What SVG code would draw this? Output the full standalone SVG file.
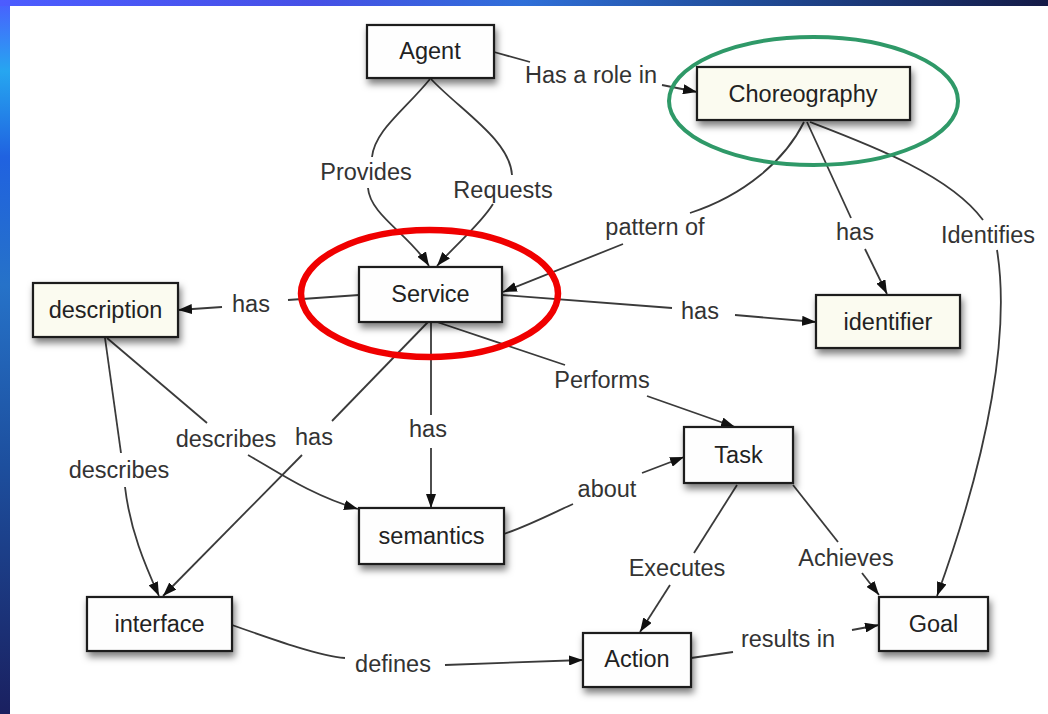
<svg xmlns="http://www.w3.org/2000/svg" width="1048" height="714" viewBox="0 0 1048 714">
  <defs>
    <linearGradient id="frameTop" x1="0" y1="0" x2="1" y2="0">
      <stop offset="0" stop-color="#4c5cff"/>
      <stop offset="0.3" stop-color="#4650e6"/>
      <stop offset="0.5" stop-color="#2f6fd8"/>
      <stop offset="0.7" stop-color="#214e9c"/>
      <stop offset="1" stop-color="#141a46"/>
    </linearGradient>
    <linearGradient id="frameLeft" x1="0" y1="0" x2="0" y2="1">
      <stop offset="0" stop-color="#4a5eff"/>
      <stop offset="0.1" stop-color="#26a6f0"/>
      <stop offset="0.22" stop-color="#2062e0"/>
      <stop offset="0.4" stop-color="#2672c8"/>
      <stop offset="0.65" stop-color="#1d4f9e"/>
      <stop offset="1" stop-color="#1a2060"/>
    </linearGradient>
    <filter id="shadow" x="-20%" y="-30%" width="150%" height="180%">
      <feDropShadow dx="2" dy="5" stdDeviation="3.5" flood-color="#000" flood-opacity="0.5"/>
    </filter>
    <marker id="arrow" viewBox="0 0 14 10" refX="14" refY="5" markerWidth="14" markerHeight="10" markerUnits="userSpaceOnUse" orient="auto">
      <path d="M0,0 L14,5 L0,10 z" fill="#111"/>
    </marker>
    <style>
      .box { fill: #fefefe; stroke: #1a1a1a; stroke-width: 2.2; filter: url(#shadow); }
      .box.cream { fill: #fbfbf0; }
      .node-text { font-family: "Liberation Sans", Arial, sans-serif; font-size: 23.5px; fill: #222; text-anchor: middle; }
      .label { font-family: "Liberation Sans", Arial, sans-serif; font-size: 23.5px; fill: #333; text-anchor: middle; }
      .link { fill: none; stroke: #3a3a3a; stroke-width: 1.8; }
      .head { marker-end: url(#arrow); }
      .ring { fill: none; }
    </style>
  </defs>

  <!-- slide frame -->
  <rect x="0" y="0" width="1048" height="714" fill="url(#frameLeft)"/>
  <rect x="0" y="0" width="1048" height="6" fill="url(#frameTop)"/>
  <rect x="10" y="6" width="1038" height="708" fill="#ffffff"/>

  <!-- connectors -->
  <g id="connectors">
    <path class="link" d="M494,52 L530,62"/>
    <path class="link head" d="M662,85 L697,92"/>

    <path class="link" d="M430,79 C405,110 375,130 372,157"/>
    <path class="link head" d="M368,188 C370,215 410,235 429,266"/>

    <path class="link" d="M431,79 C460,110 510,140 512,175"/>
    <path class="link head" d="M493,204 C480,225 455,245 437,266"/>

    <path class="link" d="M804,122 C785,160 745,195 690,213"/>
    <path class="link head" d="M623,244 L503,292"/>

    <path class="link" d="M807,122 L851,218"/>
    <path class="link head" d="M865,249 L887,294"/>

    <path class="link" d="M810,122 C870,145 950,175 983,220"/>
    <path class="link head" d="M997,250 C1010,330 990,450 937,596"/>

    <path class="link" d="M359,295 L288,300"/>
    <path class="link head" d="M222,307 L178,310"/>

    <path class="link" d="M502,295 L672,308"/>
    <path class="link head" d="M735,315 L816,322"/>

    <path class="link" d="M437,322 L565,365"/>
    <path class="link head" d="M647,396 L735,427"/>

    <path class="link" d="M431,322 L431,415"/>
    <path class="link head" d="M431,448 L431,508"/>

    <path class="link" d="M428,322 L332,421"/>
    <path class="link head" d="M302,455 L163,596"/>

    <path class="link" d="M107,338 L207,423"/>
    <path class="link head" d="M248,455 C275,470 310,495 358,509"/>

    <path class="link" d="M105,338 L121,453"/>
    <path class="link head" d="M125,487 C130,530 145,565 159,596"/>

    <path class="link" d="M504,534 C530,525 555,512 573,504"/>
    <path class="link head" d="M642,473 L684,457"/>

    <path class="link" d="M737,485 L694,553"/>
    <path class="link head" d="M670,585 L640,632"/>

    <path class="link" d="M793,485 L838,542"/>
    <path class="link head" d="M862,573 L879,595"/>

    <path class="link" d="M691,658 L733,652"/>
    <path class="link head" d="M852,630 L879,625"/>

    <path class="link" d="M232,625 C280,642 320,656 345,658"/>
    <path class="link head" d="M445,665 L583,660"/>
  </g>

  <!-- connector labels -->
  <g id="labels">
    <text class="label" x="591" y="83">Has a role in</text>
    <text class="label" x="366" y="180">Provides</text>
    <text class="label" x="503" y="198">Requests</text>
    <text class="label" x="655" y="235">pattern of</text>
    <text class="label" x="855" y="240">has</text>
    <text class="label" x="988" y="243">Identifies</text>
    <text class="label" x="251" y="312">has</text>
    <text class="label" x="700" y="319">has</text>
    <text class="label" x="602" y="388">Performs</text>
    <text class="label" x="428" y="437">has</text>
    <text class="label" x="314" y="445">has</text>
    <text class="label" x="226" y="447">describes</text>
    <text class="label" x="119" y="478">describes</text>
    <text class="label" x="607" y="497">about</text>
    <text class="label" x="677" y="576">Executes</text>
    <text class="label" x="846" y="566">Achieves</text>
    <text class="label" x="788" y="647">results in</text>
    <text class="label" x="393" y="672">defines</text>
  </g>

  <!-- nodes -->
  <g id="agent">
    <rect class="box" x="367" y="25" width="127" height="53"/>
    <text class="node-text" x="430" y="59">Agent</text>
  </g>
  <g id="choreography">
    <rect class="box cream" x="697" y="67" width="213" height="53"/>
    <text class="node-text" x="803" y="102">Choreography</text>
  </g>
  <g id="service">
    <rect class="box" x="359" y="267" width="143" height="55"/>
    <text class="node-text" x="430.5" y="302">Service</text>
  </g>
  <g id="description">
    <rect class="box cream" x="33" y="283" width="145" height="54"/>
    <text class="node-text" x="105.5" y="318">description</text>
  </g>
  <g id="identifier">
    <rect class="box cream" x="816" y="295" width="144" height="53"/>
    <text class="node-text" x="888" y="330">identifier</text>
  </g>
  <g id="semantics">
    <rect class="box" x="359" y="508" width="145" height="56"/>
    <text class="node-text" x="431.5" y="544">semantics</text>
  </g>
  <g id="interface">
    <rect class="box" x="87" y="597" width="145" height="54"/>
    <text class="node-text" x="159.5" y="632">interface</text>
  </g>
  <g id="task">
    <rect class="box" x="684" y="427" width="109" height="56"/>
    <text class="node-text" x="738.5" y="463">Task</text>
  </g>
  <g id="goal">
    <rect class="box" x="879" y="597" width="109" height="54"/>
    <text class="node-text" x="933.5" y="632">Goal</text>
  </g>
  <g id="action">
    <rect class="box" x="583" y="633" width="108" height="54"/>
    <text class="node-text" x="637" y="667">Action</text>
  </g>

  <!-- highlight rings -->
  <g id="highlights">
    <ellipse class="ring" cx="429.5" cy="293.5" rx="128.5" ry="63.5" stroke="#f00000" stroke-width="6.5"/>
    <ellipse class="ring" cx="813.5" cy="101" rx="144.5" ry="64" stroke="#2f9968" stroke-width="4"/>
  </g>
</svg>
